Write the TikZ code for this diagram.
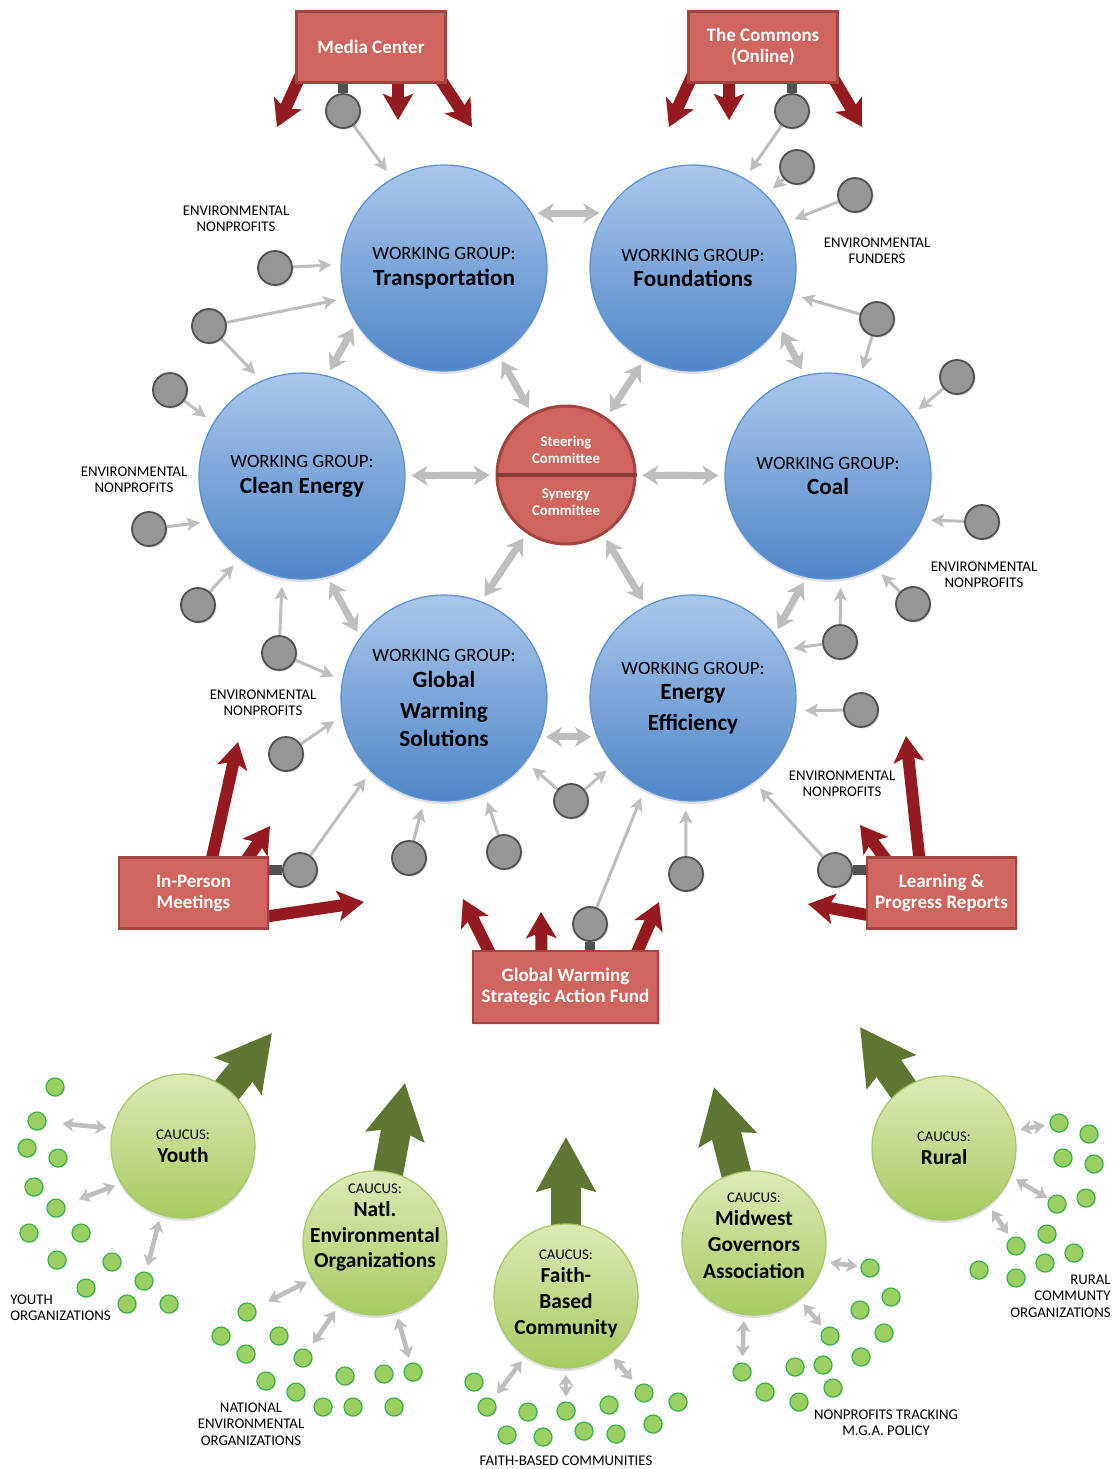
\documentclass[tikz,border=0pt]{standalone}
\usepackage{fontspec}
\setmainfont{Carlito}
\usetikzlibrary{arrows.meta,shadows,backgrounds}

\definecolor{wgtop}{RGB}{170,199,235}
\definecolor{wgbottom}{RGB}{78,134,200}
\definecolor{wgline}{RGB}{90,143,212}
\definecolor{boxfill}{RGB}{208,101,95}
\definecolor{boxline}{RGB}{164,68,65}
\definecolor{redarrow}{RGB}{148,26,31}
\definecolor{nodegray}{RGB}{150,150,150}
\definecolor{nodeline}{RGB}{80,80,80}
\definecolor{linkgray}{RGB}{190,190,190}
\definecolor{caucustop}{RGB}{220,234,182}
\definecolor{caucusbottom}{RGB}{166,203,96}
\definecolor{caucusline}{RGB}{164,200,104}
\definecolor{dotfill}{RGB}{155,207,97}
\definecolor{dotline}{RGB}{58,178,74}
\definecolor{greenarrow}{RGB}{95,118,51}

\newcommand{\wgtitle}[1]{{\fontsize{11.6}{12.5}\selectfont\bfseries #1}}
\newcommand{\cctitle}[1]{{\fontsize{10.7}{12}\selectfont\bfseries #1}}

\tikzset{
    workgroup/.style={circle, minimum size=103pt, inner sep=0pt,
                      draw=wgline, line width=0.6pt,
                      top color=wgtop, bottom color=wgbottom,
                      drop shadow={opacity=0.25, shadow xshift=0pt, shadow yshift=-1.5pt}},
    wgtext/.style={align=center, font=\fontsize{9.4}{12.9}\selectfont},
    caucus/.style={circle, minimum size=72pt, inner sep=0pt,
                   draw=caucusline, line width=0.6pt,
                   top color=caucustop, bottom color=caucusbottom,
                   drop shadow={opacity=0.25, shadow xshift=0pt, shadow yshift=-1.5pt}},
    cctext/.style={align=center, font=\fontsize{7.4}{11.6}\selectfont},
    steering/.style={circle, minimum size=69pt, inner sep=0pt,
                     fill=boxfill, draw=boxline, line width=1.5pt},
    steertext/.style={align=center, text=white, font=\fontsize{7.4}{8.4}\selectfont\bfseries},
    hub/.style={rectangle, minimum width=74.5pt, minimum height=35.5pt,
                fill=boxfill, draw=boxline, line width=1.4pt,
                align=center, text=white, font=\fontsize{9.5}{10.5}\selectfont\bfseries,
                drop shadow={opacity=0.2, shadow xshift=0.8pt, shadow yshift=-0.8pt}},
    orgnode/.style={circle, minimum size=17pt, inner sep=0pt,
                    fill=nodegray, draw=nodeline, line width=0.9pt,
                    drop shadow={opacity=0.25, shadow xshift=0.8pt, shadow yshift=-0.8pt}},
    grassroot/.style={circle, minimum size=9pt, inner sep=0pt,
                      fill=dotfill, draw=dotline, line width=0.6pt,
                      drop shadow={opacity=0.2, shadow xshift=0.5pt, shadow yshift=-0.6pt}},
    tag/.style={align=center, inner sep=0pt, font=\fontsize{7.4}{8.2}\selectfont},
    link/.style={draw=linkgray, line width=1.5pt,
                 -{Stealth[length=6.5pt, width=6.5pt, inset=1.5pt]}, shorten >=4.5pt},
    bond/.style={draw=linkgray, line width=3.5pt,
                 {Stealth[length=8pt, width=10pt, inset=2.5pt]}-{Stealth[length=8pt, width=10pt, inset=2.5pt]},
                 shorten >=3pt, shorten <=3pt},
    reach/.style={draw=linkgray, line width=2.3pt,
                  {Stealth[length=5.5pt, width=7pt, inset=1.5pt]}-{Stealth[length=5.5pt, width=7pt, inset=1.5pt]},
                  shorten <=3pt},
    push/.style={draw=redarrow, line width=6pt,
                 -{Stealth[length=13pt, width=15pt, inset=3pt]}},
    lift/.style={draw=greenarrow, line width=15pt,
                 -{Stealth[length=27pt, width=29pt, inset=4pt]}, shorten <=-4pt},
    stub/.style={draw=nodeline, line width=5pt}
}

\begin{document}
\begin{tikzpicture}[x=0.5pt, y=-0.5pt]
    \useasboundingbox (0,0) rectangle (1117,1469);

    % working groups
    \node[workgroup, label={[wgtext]center:{WORKING GROUP:\\\wgtitle{Transportation}}}] (tr) at (444,268) {};
    \node[workgroup, label={[wgtext]center:{WORKING GROUP:\\\wgtitle{Foundations}}}] (fo) at (693,268) {};
    \node[workgroup, label={[wgtext]center:{WORKING GROUP:\\\wgtitle{Clean Energy}}}] (ce) at (302,476) {};
    \node[workgroup, label={[wgtext]center:{WORKING GROUP:\\\wgtitle{Coal}}}] (coal) at (828,476) {};
    \node[workgroup, label={[wgtext]center:{WORKING GROUP:\\\wgtitle{Global}\\[2.8pt]\wgtitle{Warming}\\[1.3pt]\wgtitle{Solutions}}}] (gw) at (444,698) {};
    \node[workgroup, label={[wgtext]center:{WORKING GROUP:\\\wgtitle{Energy}\\[2.3pt]\wgtitle{Efficiency}}}] (ee) at (693,698) {};

    \node[steering] (sc) at (566,475) {};
    \draw[boxline!85!black, line width=2pt] (sc.west) -- (sc.east);
    \node[steertext] (steer) at ([yshift=12.75pt]sc.center) {Steering\\Committee};
    \node[steertext] (synergy) at ([yshift=-13.5pt]sc.center) {Synergy\\Committee};

    % outreach boxes
    \node[hub] (media) at (371,47) {Media Center};
    \node[hub] (commons) at (763,47) {The Commons\\(Online)};
    \node[hub] (meetings) at (193.5,893) {In-Person\\Meetings};
    \node[hub] (reports) at (941.5,893) {Learning \&\\Progress Reports};
    \node[hub, minimum width=92.5pt, minimum height=36pt] (fund) at (565.5,987) {Global Warming\\Strategic Action Fund};

    % member organisations
    \node[orgnode] (mediag) at (343,111) {};
    \node[orgnode] (commonsg) at (792,111) {};
    \node[orgnode] (f1) at (797,167) {};
    \node[orgnode] (f2) at (855,195) {};
    \node[orgnode] (f3) at (877,319) {};
    \node[orgnode] (c1) at (957,377) {};
    \node[orgnode] (c2) at (982,522) {};
    \node[orgnode] (c3) at (913,604) {};
    \node[orgnode] (c4) at (840,642) {};
    \node[orgnode] (e1) at (861,710) {};
    \node[orgnode] (reportsg) at (835,870) {};
    \node[orgnode] (e2) at (686,874) {};
    \node[orgnode] (m1) at (571,801) {};
    \node[orgnode] (fundg) at (590,924) {};
    \node[orgnode] (g1) at (504,852) {};
    \node[orgnode] (g2) at (409,858) {};
    \node[orgnode] (meetingsg) at (300,870) {};
    \node[orgnode] (g3) at (286,754) {};
    \node[orgnode] (g4) at (279,653) {};
    \node[orgnode] (ce1) at (198,605) {};
    \node[orgnode] (ce2) at (149,529) {};
    \node[orgnode] (ce3) at (170,390) {};
    \node[orgnode] (t1) at (209,326) {};
    \node[orgnode] (t2) at (275,268) {};

    \node[tag] (tagtr) at (236,219) {ENVIRONMENTAL\\NONPROFITS};
    \node[tag] (tagfo) at (877,251) {ENVIRONMENTAL\\FUNDERS};
    \node[tag] (tagce) at (134,480) {ENVIRONMENTAL\\NONPROFITS};
    \node[tag] (tagcoal) at (984,575) {ENVIRONMENTAL\\NONPROFITS};
    \node[tag] (taggw) at (263,703) {ENVIRONMENTAL\\NONPROFITS};
    \node[tag] (tagee) at (842,784) {ENVIRONMENTAL\\NONPROFITS};

    % caucuses
    \node[caucus, label={[cctext]center:{CAUCUS:\\\cctitle{Youth}}}] (youth) at (183,1146) {};
    \node[caucus, label={[cctext, yshift=7.75pt]center:{CAUCUS:\\\cctitle{Natl.}\\[1.5pt]\cctitle{Environmental}\\[1pt]\cctitle{Organizations}}}] (natl) at (375,1243) {};
    \node[caucus, label={[cctext, yshift=1pt]center:{CAUCUS:\\\cctitle{Faith-}\\[1.5pt]\cctitle{Based}\\[1.5pt]\cctitle{Community}}}] (faith) at (566,1296) {};
    \node[caucus, label={[cctext, yshift=3.75pt]center:{CAUCUS:\\\cctitle{Midwest}\\[1.5pt]\cctitle{Governors}\\[1.5pt]\cctitle{Association}}}] (mga) at (754,1243) {};
    \node[caucus, label={[cctext]center:{CAUCUS:\\\cctitle{Rural}}}] (rural) at (944,1148) {};

    \node[grassroot] (y1) at (55,1087) {};   \node[grassroot] (y2) at (37,1121) {};
    \node[grassroot] (y3) at (27,1148) {};   \node[grassroot] (y4) at (58,1158) {};
    \node[grassroot] (y5) at (34,1187) {};   \node[grassroot] (y6) at (56,1208) {};
    \node[grassroot] (y7) at (29,1233) {};   \node[grassroot] (y8) at (81,1233) {};
    \node[grassroot] (y9) at (57,1260) {};   \node[grassroot] (y10) at (112,1262) {};
    \node[grassroot] (y11) at (86,1288) {};  \node[grassroot] (y12) at (144,1281) {};
    \node[grassroot] (y13) at (127,1304) {}; \node[grassroot] (y14) at (169,1304) {};

    \node[grassroot] (n1) at (247,1312) {};  \node[grassroot] (n2) at (221,1336) {};
    \node[grassroot] (n3) at (279,1336) {};  \node[grassroot] (n4) at (246,1354) {};
    \node[grassroot] (n5) at (303,1358) {};  \node[grassroot] (n6) at (266,1381) {};
    \node[grassroot] (n7) at (345,1376) {};  \node[grassroot] (n8) at (384,1374) {};
    \node[grassroot] (n9) at (413,1372) {};  \node[grassroot] (n10) at (296,1392) {};
    \node[grassroot] (n11) at (323,1407) {}; \node[grassroot] (n12) at (353,1407) {};
    \node[grassroot] (n13) at (394,1407) {};

    \node[grassroot] (fb1) at (474,1382) {};  \node[grassroot] (fb2) at (487,1407) {};
    \node[grassroot] (fb3) at (528,1412) {};  \node[grassroot] (fb4) at (566,1411) {};
    \node[grassroot] (fb5) at (609,1405) {};  \node[grassroot] (fb6) at (644,1393) {};
    \node[grassroot] (fb7) at (678,1402) {};  \node[grassroot] (fb8) at (507,1435) {};
    \node[grassroot] (fb9) at (543,1437) {};  \node[grassroot] (fb10) at (584,1431) {};
    \node[grassroot] (fb11) at (616,1434) {}; \node[grassroot] (fb12) at (653,1424) {};

    \node[grassroot] (mw1) at (870,1268) {};  \node[grassroot] (mw2) at (891,1297) {};
    \node[grassroot] (mw3) at (860,1310) {};  \node[grassroot] (mw4) at (884,1333) {};
    \node[grassroot] (mw5) at (830,1336) {};  \node[grassroot] (mw6) at (861,1357) {};
    \node[grassroot] (mw7) at (742,1372) {};  \node[grassroot] (mw8) at (795,1367) {};
    \node[grassroot] (mw9) at (823,1365) {};  \node[grassroot] (mw10) at (765,1392) {};
    \node[grassroot] (mw11) at (833,1388) {}; \node[grassroot] (mw12) at (799,1402) {};

    \node[grassroot] (r1) at (1059,1123) {};  \node[grassroot] (r2) at (1089,1134) {};
    \node[grassroot] (r3) at (1063,1158) {};  \node[grassroot] (r4) at (1094,1164) {};
    \node[grassroot] (r5) at (1086,1198) {};  \node[grassroot] (r6) at (1057,1204) {};
    \node[grassroot] (r7) at (1047,1234) {};  \node[grassroot] (r8) at (1016,1246) {};
    \node[grassroot] (r9) at (1074,1253) {};  \node[grassroot] (r10) at (1045,1263) {};
    \node[grassroot] (r11) at (979,1270) {};  \node[grassroot] (r12) at (1016,1278) {};

    \node[tag, anchor=west, align=left] (tagyouth) at (10,1308) {YOUTH\\ORGANIZATIONS};
    \node[tag] (tagnatl) at (251,1424) {NATIONAL\\ENVIRONMENTAL\\ORGANIZATIONS};
    \node[tag] (tagfaith) at (566,1461) {FAITH-BASED COMMUNITIES};
    \node[tag] (tagmga) at (886,1423) {NONPROFITS TRACKING\\M.G.A. POLICY};
    \node[tag, anchor=east, align=right] (tagrural) at (1111,1296) {RURAL\\COMMUNTY\\ORGANIZATIONS};

    \coordinate (mediaL) at (277,127);
    \coordinate (mediaM) at (398,120);
    \coordinate (mediaR) at (472,127);
    \coordinate (commonsL) at (669,127);
    \coordinate (commonsM) at (729,120);
    \coordinate (commonsR) at (862,127);
    \coordinate (meetingsU) at (238,742);
    \coordinate (meetingsD) at (270,826);
    \coordinate (meetingsR) at (364,902);
    \coordinate (reportsU) at (906,736);
    \coordinate (reportsD) at (860,825);
    \coordinate (reportsL) at (808,904);
    \coordinate (fundL) at (463,899);
    \coordinate (fundM) at (541,912);
    \coordinate (fundR) at (659,902);
    \coordinate (youthtip) at (272,1033);
    \coordinate (natltip) at (405,1083);
    \coordinate (faithtip) at (566,1137);
    \coordinate (mgatip) at (714,1087);
    \coordinate (ruraltip) at (860,1027);

    \begin{scope}[on background layer]
        \fill[white] (0,0) rectangle (1117,1469);

        \draw[link] (mediag) -- (tr.120);
        \draw[link] (t2) -- (tr.178);
        \draw[link] (t1) -- (tr.197);
        \draw[link] (t1) -- (ce.113);
        \draw[link] (ce3) -- (ce.149);
        \draw[link] (ce2) -- (ce.206);
        \draw[link] (ce1) -- (ce.-127);
        \draw[link] (g4) -- (ce.-101);
        \draw[link] (g4) -- (gw.170);
        \draw[link] (g3) -- (gw.190);
        \draw[link] (meetingsg) -- (gw.-135);
        \draw[link] (g2) -- (gw.-101);
        \draw[link] (g1) -- (gw.-67);
        \draw[link] (m1) -- (gw.-38);
        \draw[link] (m1) -- (ee.-140);
        \draw[link] (fundg) -- (ee.-118);
        \draw[link] (e2) -- (ee.-94);
        \draw[link] (reportsg) -- (ee.-54);
        \draw[link] (e1) -- (ee.-7);
        \draw[link] (c4) -- (ee.28);
        \draw[link] (c4) -- (coal.-83);
        \draw[link] (c3) -- (coal.-63);
        \draw[link] (c2) -- (coal.-25);
        \draw[link] (c1) -- (coal.36);
        \draw[link] (f3) -- (coal.72);
        \draw[link] (f3) -- (fo.-15);
        \draw[link] (f2) -- (fo.26);
        \draw[link] (f1) -- (fo.45);
        \draw[link] (commonsg) -- (fo.60);

        \draw[bond] (tr.32) -- (fo.148);
        \draw[bond] (tr.212) -- (ce.76);
        \draw[bond] (tr.-58) -- (sc.119);
        \draw[bond] (fo.-118) -- (sc.55);
        \draw[bond] (fo.-34) -- (coal.103);
        \draw[bond] (sc) -- (ce);
        \draw[bond] (sc) -- (coal);
        \draw[bond] (sc.-124) -- (gw.69);
        \draw[bond] (sc.-58) -- (ee.117);
        \draw[bond] (ce.-76) -- (gw.144);
        \draw[bond] (coal.-102) -- (ee.38);
        \draw[bond] (gw.-22) -- (ee.-158);

        \draw[stub] (mediag) -- (mediag |- media.south);
        \draw[stub] (commonsg) -- (commonsg |- commons.south);
        \draw[stub] (meetingsg) -- (meetingsg -| meetings.east);
        \draw[stub] (reportsg) -- (reportsg -| reports.west);
        \draw[stub] (fundg) -- (fundg |- fund.north);

        \draw[push] ([xshift=3pt, yshift=5pt]media.south west) -- (mediaL);
        \draw[push] ([xshift=13.5pt, yshift=4pt]media.south) -- (mediaM);
        \draw[push] ([xshift=-5pt, yshift=5pt]media.south east) -- (mediaR);
        \draw[push] ([xshift=3pt, yshift=5pt]commons.south west) -- (commonsL);
        \draw[push] ([xshift=-17pt, yshift=4pt]commons.south) -- (commonsM);
        \draw[push] ([xshift=-4pt, yshift=5pt]commons.south east) -- (commonsR);
        \draw[push] ([xshift=8pt, yshift=-6.5pt]meetings.north) -- (meetingsU);
        \draw[push] ([xshift=-14pt, yshift=-5.5pt]meetings.north east) -- (meetingsD);
        \draw[push] ([xshift=-6.5pt, yshift=-12.5pt]meetings.east) -- (meetingsR);
        \draw[push] ([xshift=-10.5pt, yshift=-6.5pt]reports.north) -- (reportsU);
        \draw[push] ([xshift=13pt, yshift=-5.5pt]reports.north west) -- (reportsD);
        \draw[push] ([xshift=6.5pt, yshift=-12pt]reports.west) -- (reportsL);
        \draw[push] ([xshift=11pt, yshift=-5.5pt]fund.north west) -- (fundL);
        \draw[push] ([xshift=-12pt, yshift=-5.5pt]fund.north) -- (fundM);
        \draw[push] ([xshift=-13pt, yshift=-5.5pt]fund.north east) -- (fundR);

        \draw[lift] (youth) -- (youthtip);
        \draw[lift] (natl) -- (natltip);
        \draw[lift] (faith) -- (faithtip);
        \draw[lift] (mga) -- (mgatip);
        \draw[lift] (rural) -- (ruraltip);

        \draw[reach, shorten >=8pt] (youth.166) -- (y2);
        \draw[reach, shorten >=7.5pt] (youth.-149) -- (y6);
        \draw[reach, shorten >=3pt] (youth.-108) -- (y12);
        \draw[reach, shorten >=7pt] (natl.-150) -- (n1);
        \draw[reach, shorten >=4pt] (natl.-120) -- (n5);
        \draw[reach, shorten >=2.5pt] (natl.-73) -- (n9);
        \draw[reach, shorten >=3.5pt] (faith.-124) -- (fb2);
        \draw[reach, shorten >=2.5pt] (faith.-90) -- (fb4);
        \draw[reach, shorten >=4pt] (faith.-53) -- (fb6);
        \draw[reach, shorten >=1.5pt] (mga.-15) -- (mw1);
        \draw[reach, shorten >=2pt] (mga.-51) -- (mw5);
        \draw[reach, shorten >=3pt] (mga.-98) -- (mw7);
        \draw[reach, shorten >=2.5pt] (rural.14) -- (r1);
        \draw[reach, shorten >=1pt] (rural.-23) -- (r6);
        \draw[reach, shorten >=2.5pt] (rural.-52) -- (r8);
    \end{scope}
\end{tikzpicture}
\end{document}
